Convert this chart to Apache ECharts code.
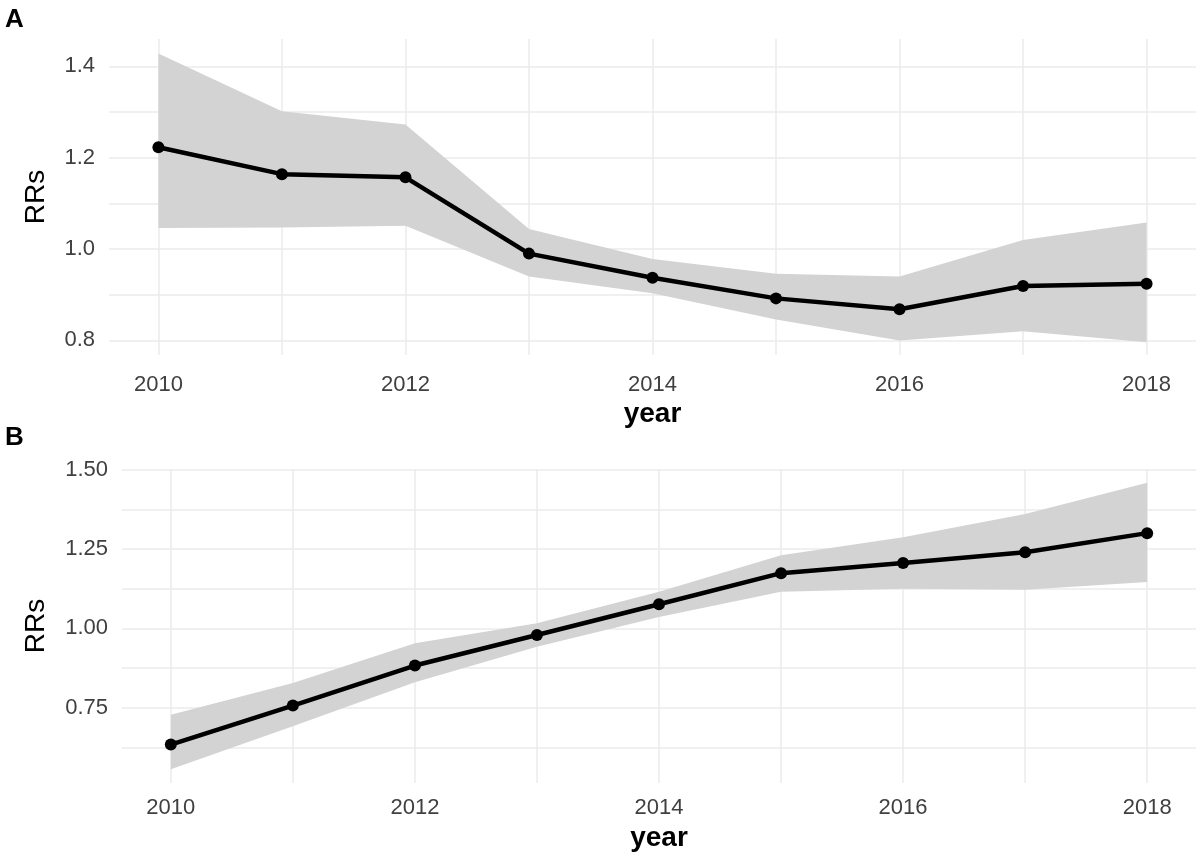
<!DOCTYPE html>
<html>
<head>
<meta charset="utf-8">
<title>RRs by year</title>
<script src="https://cdn.jsdelivr.net/npm/echarts@6/dist/echarts.min.js"></script>
<style>
  html, body { margin: 0; padding: 0; background: #fff; }
  #main { width: 1202px; height: 860px; }
</style>
</head>
<body>
<div id="main"></div>
<script>
// years on the x axis
var years = [2010, 2011, 2012, 2013, 2014, 2015, 2016, 2017, 2018];
var yearLabels = [2010, 2012, 2014, 2016, 2018];

// panel A
var aRR   = [1.223, 1.164, 1.157, 0.990, 0.937, 0.892, 0.868, 0.919, 0.924];
var aLow  = [1.046, 1.047, 1.051, 0.940, 0.903, 0.846, 0.800, 0.820, 0.796];
var aHigh = [1.428, 1.302, 1.273, 1.044, 0.978, 0.946, 0.940, 1.020, 1.058];
var aTicks = [0.8, 1.0, 1.2, 1.4];
var aGrid  = [0.8, 0.9, 1.0, 1.1, 1.2, 1.3, 1.4];

// panel B
var bRR   = [0.634, 0.757, 0.883, 0.979, 1.076, 1.174, 1.206, 1.240, 1.300];
var bLow  = [0.556, 0.692, 0.830, 0.942, 1.036, 1.115, 1.125, 1.122, 1.146];
var bHigh = [0.728, 0.828, 0.953, 1.016, 1.115, 1.230, 1.287, 1.360, 1.459];
var bTicks = [0.75, 1.00, 1.25, 1.50];
var bGrid  = [0.625, 0.75, 0.875, 1.00, 1.125, 1.25, 1.375, 1.50];

var font = 'Liberation Sans, Arial, sans-serif';
var gridColor = '#ebebeb';
var bandColor = '#d3d3d3';

function pairs(vals) {
    return years.map(function (y, i) { return [y, vals[i]]; });
}

// one row per year: [year, low, high]
function bandRows(lo, hi) {
    return years.map(function (y, i) { return [y, lo[i], hi[i]]; });
}

function xAxis(gridIndex, labelMargin, nameGap) {
    return {
        gridIndex: gridIndex,
        type: 'value',
        min: 2009.6,
        max: 2018.4,
        name: 'year',
        nameLocation: 'middle',
        nameGap: nameGap,
        nameTextStyle: { fontFamily: font, fontSize: 28, fontWeight: 'bold', color: '#000' },
        axisLine: { show: false },
        axisTick: { show: false, customValues: years },
        axisLabel: {
            customValues: yearLabels,
            margin: labelMargin,
            fontFamily: font, fontSize: 22, color: '#404040',
            formatter: function (v) { return String(Math.round(v)); }
        },
        splitLine: { show: true, lineStyle: { color: gridColor, width: 1.5 } }
    };
}

function yAxis(gridIndex, min, max, ticks, gridVals, digits, nameGap) {
    return {
        gridIndex: gridIndex,
        type: 'value',
        min: min,
        max: max,
        name: 'RRs',
        nameLocation: 'middle',
        nameGap: nameGap,
        nameTextStyle: { fontFamily: font, fontSize: 28, color: '#000' },
        axisLine: { show: false },
        axisTick: { show: false, customValues: gridVals },
        axisLabel: {
            customValues: ticks,
            margin: 14,
            fontFamily: font, fontSize: 22, color: '#404040',
            formatter: function (v) { return v.toFixed(digits); }
        },
        splitLine: { show: true, lineStyle: { color: gridColor, width: 1.5 } }
    };
}

// confidence band drawn as one polygon through the axis scales
function band(idx, lo, hi) {
    var rows = bandRows(lo, hi);
    return {
        type: 'custom', xAxisIndex: idx, yAxisIndex: idx,
        data: rows,
        encode: { x: 0, y: [1, 2] },
        silent: true,
        z: 1,
        renderItem: function (params, api) {
            if (params.dataIndex !== 0) return null;
            var top = rows.map(function (r) { return api.coord([r[0], r[2]]); });
            var bottom = rows.slice().reverse().map(function (r) { return api.coord([r[0], r[1]]); });
            return {
                type: 'polygon',
                shape: { points: top.concat(bottom) },
                style: { fill: bandColor }
            };
        }
    };
}

function mainLine(idx, vals) {
    return {
        type: 'line', xAxisIndex: idx, yAxisIndex: idx,
        data: pairs(vals),
        symbol: 'circle', symbolSize: 12,
        itemStyle: { color: '#000' },
        lineStyle: { color: '#000', width: 4.5 },
        z: 5
    };
}

var myChart = echarts.init(document.getElementById('main'));
var option = {
    backgroundColor: '#fff',
    animation: false,
    title: [
        { text: 'A', left: 0, top: 2, textStyle: { fontFamily: font, fontSize: 26, fontWeight: 'bold', color: '#000' } },
        { text: 'B', left: 0, top: 420, textStyle: { fontFamily: font, fontSize: 26, fontWeight: 'bold', color: '#000' } }
    ],
    grid: [
        { left: 109, right: 6, top: 39, height: 316 },
        { left: 122, right: 6, top: 469, height: 314 }
    ],
    xAxis: [xAxis(0, 19, 45), xAxis(1, 14, 41)],
    yAxis: [
        yAxis(0, 0.768, 1.46, aTicks, aGrid, 1, 59),
        yAxis(1, 0.513, 1.502, bTicks, bGrid, 2, 72)
    ],
    series: [
        band(0, aLow, aHigh),
        mainLine(0, aRR),
        band(1, bLow, bHigh),
        mainLine(1, bRR)
    ]
};
myChart.setOption(option);
</script>
</body>
</html>
